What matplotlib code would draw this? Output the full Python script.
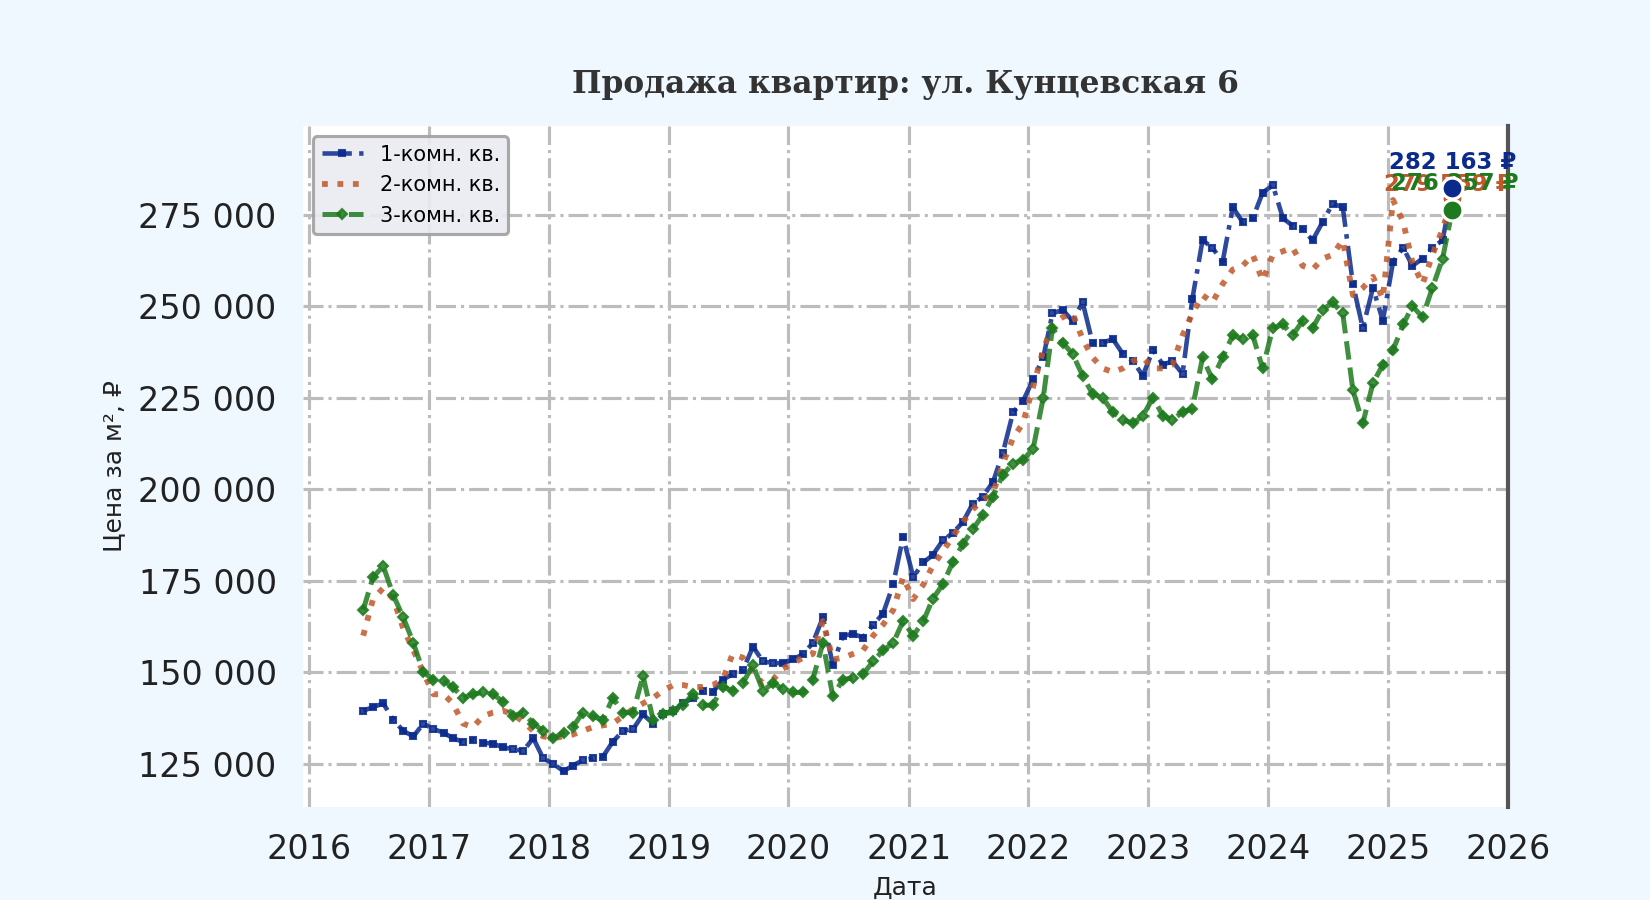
import numpy as np
import pandas as pd
import matplotlib
matplotlib.use("Agg")
import matplotlib.pyplot as plt
import matplotlib.dates as mdates
from matplotlib.ticker import FuncFormatter

# ---- data (thousand RUB per m², monthly, Jun 2016 .. Jul 2025) ----
start_month = "2016-06-01"
labels = ["1-комн. кв.", "2-комн. кв.", "3-комн. кв."]

room1 = [
    139.5, 140.5, 141.5, 137, 134, 132.5, 136,
    134.5, 133.5, 132, 131, 131.5, 130.8, 130.5, 129.5, 129, 128.5, 132, 126.5,
    125, 123, 124.5, 126, 126.5, 127, 131, 134, 134.5, 138.5, 136, 138.5,
    139.5, 141.5, 143, 145, 144.5, 148, 149.5, 150.5, 157, 153, 152.5, 152.5,
    153.5, 155, 158, 165, 152, 160, 160.5, 159.5, 163, 166, 174, 187,
    176, 180, 182, 186, 188, 191, 196, 198, 202, 210, 221, 224,
    230, 236, 248, 249, 246, 251, 240, 240, 241, 237, 235, 231,
    238, 234, 235, 231.5, 252, 268, 266, 262, 277, 273, 274, 281,
    283, 274, 272, 271, 268, 273, 278, 277, 256, 244, 255, 246,
    262, 266, 261, 263, 266, 268, 282.163,
]
room2 = [
    160, 170, 173, 170, 162, 156, 150,
    144, 144, 141.5, 136, 135, 138, 139, 139.5, 138.5, 136.5, 134, 132.5,
    132, 132.5, 133, 134, 135, 135.5, 136, 138, 140, 141.5, 143, 145,
    146.5, 146.5, 146, 146, 146.5, 148, 155, 154, 150, 147, 148, 151,
    152.5, 154, 155, 164, 153.5, 154, 155, 156, 160, 163, 167, 176,
    170, 174, 179, 183, 187, 191, 194.5, 197, 199, 207, 214, 218,
    228, 238, 245, 247, 248, 241, 236, 233, 232, 233, 235, 236,
    233, 233, 234, 242, 248, 253, 251, 256, 260, 261, 264, 257,
    264, 265, 266, 261, 260, 263, 264, 268, 253, 255, 258, 252,
    279, 273, 262, 256, 264, 271, 279.559,
]
room3 = [
    167, 176, 179, 171, 165, 158, 150,
    148, 147.5, 146, 143, 144, 144.5, 144, 142, 138, 139, 136, 134,
    132, 133.5, 135, 139, 138, 137, 143, 139, 139, 149, 137, 138.5,
    139.5, 141, 144, 141, 141, 146, 145, 147, 152, 145, 147, 145.5,
    144.5, 144.5, 148, 158, 143.5, 148, 148.5, 149.5, 153, 156, 158, 164,
    160, 164, 170, 174, 180, 185, 189, 193, 198, 204, 207, 208,
    211, 225, 244, 240, 237, 231, 226, 225, 221, 219, 218, 220,
    225, 220, 219, 221, 222, 236, 230, 236, 242, 241, 242, 233,
    244, 245, 242, 246, 244, 249, 251, 248, 227, 218, 229, 234,
    238, 245, 250, 247, 255, 263, 276.357,
]

dates = pd.date_range(start_month, periods=len(room1), freq="MS") + pd.Timedelta(days=14)

colors = ["#0a2a8c", "#c0582a", "#1e7a1e"]
styles = [
    dict(ls="-.", marker="s", ms=3.0, lw=2.2),
    dict(ls=":", marker=None, ms=0, lw=2.8),
    dict(ls="--", marker="D", ms=3.5, lw=2.4),
]

plt.rcParams["font.family"] = ["DejaVu Sans"]

fig = plt.figure(figsize=(11, 6), dpi=150, facecolor="#F0F8FF")
ax = fig.add_axes([0.1835, 0.1037, 0.9141 - 0.1835, 0.86 - 0.1037])
ax.set_facecolor("white")

series = [room1, room2, room3]
for vals, lab, c, st in zip(series, labels, colors, styles):
    y = np.array(vals) * 1000.0
    ax.plot(dates, y, color=c, label=lab, alpha=0.85, zorder=3,
            linestyle=st["ls"], marker=st["marker"], markersize=st["ms"],
            linewidth=st["lw"])

# end-point labels (drawn below the end markers)
text_offsets = {0: 12.5, 1: 6.5, 2: 12.5}
text_dx = {0: 0, 1: -2, 2: 1}
for i in [1, 2, 0]:
    v = series[i][-1] * 1000.0
    d = dates[-1]
    txt = f"{v:,.0f}".replace(",", " ") + " ₽"
    ax.annotate(txt, xy=(d, v), xytext=(text_dx[i], text_offsets[i]),
                textcoords="offset points", ha="center", va="center",
                fontsize=11, fontweight="bold", color=colors[i], zorder=5)

# end-point markers
for i in [1, 0, 2]:
    v = series[i][-1] * 1000.0
    ax.plot([dates[-1]], [v], marker="o", markersize=10, color=colors[i],
            markeredgecolor="white", markeredgewidth=1.5, linestyle="none",
            zorder=6)

ax.set_xlim(pd.Timestamp("2015-12-14"), pd.Timestamp("2026-01-01"))
ax.set_ylim(113300, 299200)

ax.xaxis.set_major_locator(mdates.YearLocator())
ax.xaxis.set_major_formatter(mdates.DateFormatter("%Y"))
ax.yaxis.set_major_locator(matplotlib.ticker.MultipleLocator(25000))
ax.yaxis.set_major_formatter(FuncFormatter(lambda v, p: f"{v:,.0f}".replace(",", " ")))

ax.tick_params(axis="both", length=0, pad=12.5, labelsize=16, labelcolor="#222222")
ax.grid(True, color="#bcbcbc", linestyle="-.", linewidth=1.5, zorder=0)
ax.set_axisbelow(True)

for s in ["left", "top", "bottom"]:
    ax.spines[s].set_visible(False)
ax.spines["right"].set_color("#555555")
ax.spines["right"].set_linewidth(2)

ax.set_title("Продажа квартир: ул. Кунцевская 6", fontsize=15, fontweight="bold",
             family="DejaVu Serif", color="#333333", pad=16)
ax.set_xlabel("Дата", fontsize=12, color="#222222", labelpad=5)
ax.set_ylabel("Цена за м², ₽", fontsize=12, color="#222222", labelpad=6)

leg = ax.legend(loc="upper left", fontsize=10, frameon=True, fancybox=True,
                facecolor="#EAEAF2", edgecolor="#A0A0A0", framealpha=0.9)
leg.get_frame().set_linewidth(1.5)

fig.savefig("out.png", dpi=150, facecolor=fig.get_facecolor())
